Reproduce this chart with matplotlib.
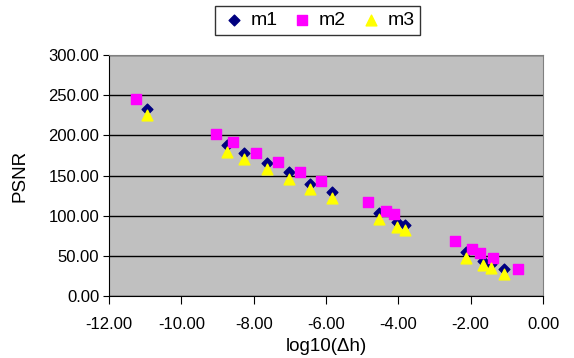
import matplotlib
matplotlib.use("Agg")
import matplotlib.pyplot as plt

plt.rcParams['font.family'] = ['Liberation Sans', 'DejaVu Sans']

# m1 and m3 share x positions
x13 = [-10.95, -8.75, -8.26, -7.63, -7.03, -6.43, -5.83, -4.53, -4.05, -3.82,
       -2.12, -1.65, -1.43, -1.09]
m1 = [233, 188, 177.6, 166, 154.8, 140, 129, 103.7, 92.6, 89,
      54.3, 43.5, 40.2, 34]
m3 = [225, 179.6, 171, 157.7, 145.6, 133, 121.6, 95.5, 85.5, 82,
      47, 38.6, 34.5, 27.4]

x2 = [-11.25, -9.05, -8.56, -7.94, -7.34, -6.73, -6.15, -4.83, -4.34, -4.12,
      -2.42, -1.95, -1.73, -1.39, -0.68]
m2 = [245, 201.7, 191.7, 178.4, 166.4, 154.8, 142.8, 117.4, 105.8, 102.5,
      68, 59, 54, 47.3, 33.6]

xticks = [-12, -10, -8, -6, -4, -2, 0]
yticks = [0, 50, 100, 150, 200, 250, 300]

fig = plt.figure(figsize=(5.74, 3.58), dpi=100)
ax = fig.add_axes([109/574, 1 - 296/358, 434/574, 241/358])
ax.set_facecolor('#C0C0C0')

ax.scatter(x13, m1, marker='D', s=30, color='#000080', label='m1', zorder=3)
ax.scatter(x2, m2, marker='s', s=55, color='#FF00FF', label='m2', zorder=3)
ax.scatter(x13, m3, marker='^', s=60, color='#FFFF00', label='m3', zorder=3)

ax.set_xlim(-12, 0)
ax.set_ylim(0, 300)
ax.set_xticks(xticks)
ax.set_yticks(yticks)
ax.set_xticklabels([f"{v:.2f}" for v in xticks], fontsize=12)
ax.set_yticklabels([f"{v:.2f}" for v in yticks], fontsize=12)
ax.yaxis.grid(True, color='black', linewidth=1)
ax.set_axisbelow(True)
ax.tick_params(axis='x', direction='out', length=6, color='black', pad=9)
ax.tick_params(axis='y', direction='out', length=4, color='black', pad=3)
for sp in ax.spines.values():
    sp.set_color('black')
ax.spines['top'].set_color('#808080')
ax.spines['right'].set_color('#808080')

ax.set_xlabel('log10(\u0394h)', fontsize=13.5)
ax.set_ylabel('PSNR', fontsize=13.5)
ax.xaxis.set_label_coords(0.5, -0.21)
ax.xaxis.label.set_va('center')
ax.yaxis.set_label_coords(-0.205, 0.5)
ax.yaxis.label.set_va('center')

leg = fig.legend(loc='upper center', bbox_to_anchor=(317.5/574, 1 - 6/358), ncol=3,
                 fontsize=14, frameon=True, fancybox=False, edgecolor='black',
                 handletextpad=0.15, columnspacing=0.57, borderpad=0.3,
                 borderaxespad=0, handlelength=1.4, markerscale=1.0)
leg.get_frame().set_linewidth(1)

fig.savefig('out.png', dpi=100)
